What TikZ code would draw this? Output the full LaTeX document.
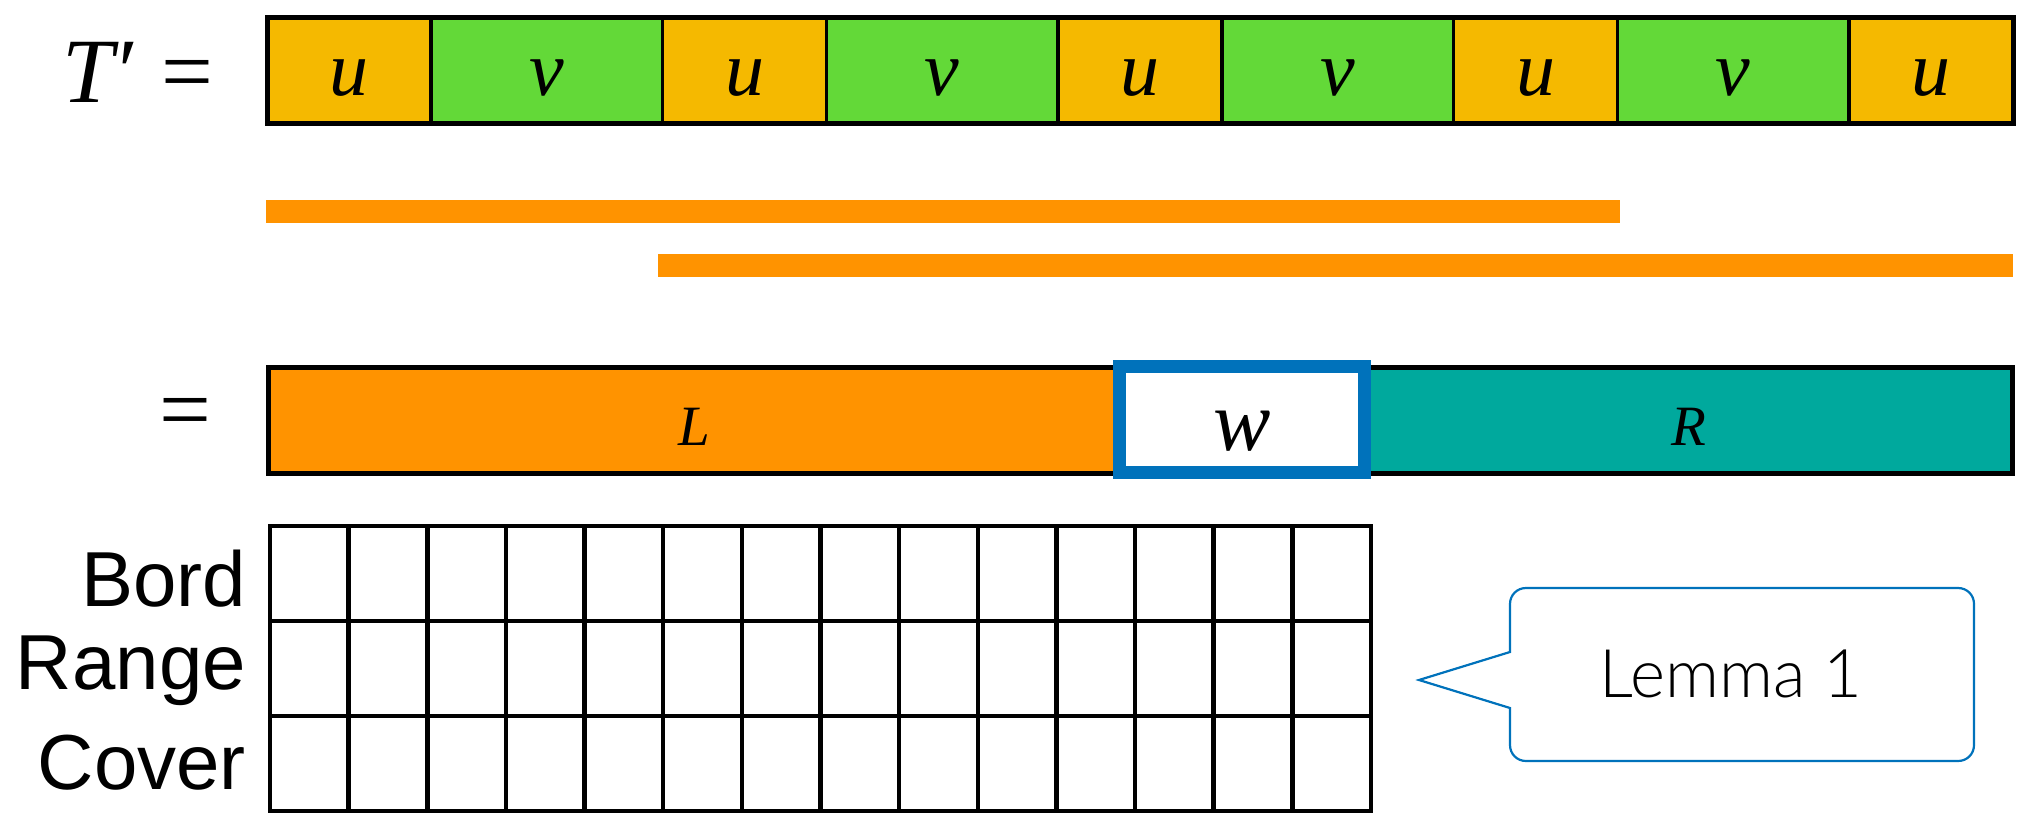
\documentclass[tikz,border=0pt]{standalone}
\usepackage{fontspec}
\setmainfont{Liberation Serif}
\newfontfamily\rowlabelfont{Liberation Sans}
\IfFontExistsTF{Lato Light}{\newfontfamily\notefont{Lato Light}}{\newfontfamily\notefont{Lato}}

\definecolor{ucol}{RGB}{245,185,0}
\definecolor{vcol}{RGB}{99,217,56}
\definecolor{barcol}{RGB}{255,147,0}
\definecolor{rcol}{RGB}{0,169,157}
\definecolor{wblue}{RGB}{0,114,187}

\tikzset{
  cellbox/.style={draw=black, line width=3.5pt, inner sep=0pt, outer sep=0pt,
    anchor=north west, minimum height=106pt, text height=49pt, text depth=0pt,
    font=\fontsize{78}{80}\selectfont\itshape},
  ucell/.style={cellbox, fill=ucol, minimum width=164pt},
  vcell/.style={cellbox, fill=vcol, minimum width=231.5pt},
  bar/.style={fill=barcol, inner sep=0pt, outer sep=0pt, anchor=north west, minimum height=23pt},
  part/.style={inner sep=0pt, outer sep=0pt, anchor=north west, minimum height=106pt,
    text height=49pt, text depth=0pt, font=\fontsize{57}{60}\selectfont\itshape},
  wbox/.style={draw=wblue, fill=white, line width=13pt, inner sep=0pt, outer sep=0pt,
    anchor=north west, minimum width=245pt, minimum height=106pt,
    text height=62pt, text depth=0pt, font=\fontsize{86}{90}\selectfont\itshape},
  bigsym/.style={inner sep=0pt, font=\fontsize{92}{96}\selectfont},
  rowlabel/.style={anchor=base east, inner sep=0pt, font=\rowlabelfont\fontsize{78}{80}\selectfont},
  gridline/.style={line width=4.5pt},
  callout/.style={draw=wblue, line width=2.2pt, line join=miter},
}

\begin{document}
\begin{tikzpicture}[x=1pt,y=-1pt]
\useasboundingbox (0,0) rectangle (2023,819);

% the word T' as blocks u v u v u v u v u
\node[bigsym, anchor=base west] (tprime) at (62,102) {\textit{T}′ =};
\node[ucell] (t1) at (267,17.5)    {u};
\node[vcell] (t2) at (431,17.5)    {v};
\node[ucell] (t3) at (662.5,17.5)  {u};
\node[vcell] (t4) at (826.5,17.5)  {v};
\node[ucell] (t5) at (1058,17.5)   {u};
\node[vcell] (t6) at (1222,17.5)   {v};
\node[ucell] (t7) at (1453.5,17.5) {u};
\node[vcell] (t8) at (1617.5,17.5) {v};
\node[ucell] (t9) at (1849,17.5)   {u};
\draw[line width=5pt] (t1.north west) rectangle (t9.south east);

% two overlapping occurrences
\node[bar, minimum width=1354pt] (occ1) at (266,200) {};
\node[bar, minimum width=1355pt] (occ2) at (658,254) {};

% decomposition L w R
\node[bigsym, anchor=base east] (eq2) at (212,440) {=};
\node[part, fill=barcol, minimum width=851pt] (L) at (268.5,367.5) {L};
\node[part, fill=rcol, minimum width=648pt] (R) at (1364.5,367.5) {R};
\draw[line width=5pt] (L.north west) rectangle (R.south east);
\node[wbox] (w) at (1119.5,366.5) {w};

% table of Bord / Range / Cover
\foreach \i in {1,...,13}
  \draw[gridline] ({270+\i*78.64},526) -- ({270+\i*78.64},811);
\foreach \j in {1,2}
  \draw[gridline] (270,{526+\j*95}) -- (1371,{526+\j*95});
\draw[gridline] (270,526) rectangle (1371,811);
\node[rowlabel] (bord)  at (246,606) {Bord};
\node[rowlabel] (range) at (246,689) {Range};
\node[rowlabel] (cover) at (246,789) {Cover};

% callout
\draw[callout] (1510,652) -- (1419,680) -- (1510,708) -- (1510,745)
  .. controls (1510,754) and (1517,761) .. (1526,761) -- (1958,761)
  .. controls (1967,761) and (1974,754) .. (1974,745) -- (1974,604)
  .. controls (1974,595) and (1967,588) .. (1958,588) -- (1526,588)
  .. controls (1517,588) and (1510,595) .. (1510,604) -- cycle;
\node[anchor=base, inner sep=0pt, font=\notefont\fontsize{67}{70}\selectfont] (lemma) at (1731,697) {Lemma 1};
\end{tikzpicture}
\end{document}
